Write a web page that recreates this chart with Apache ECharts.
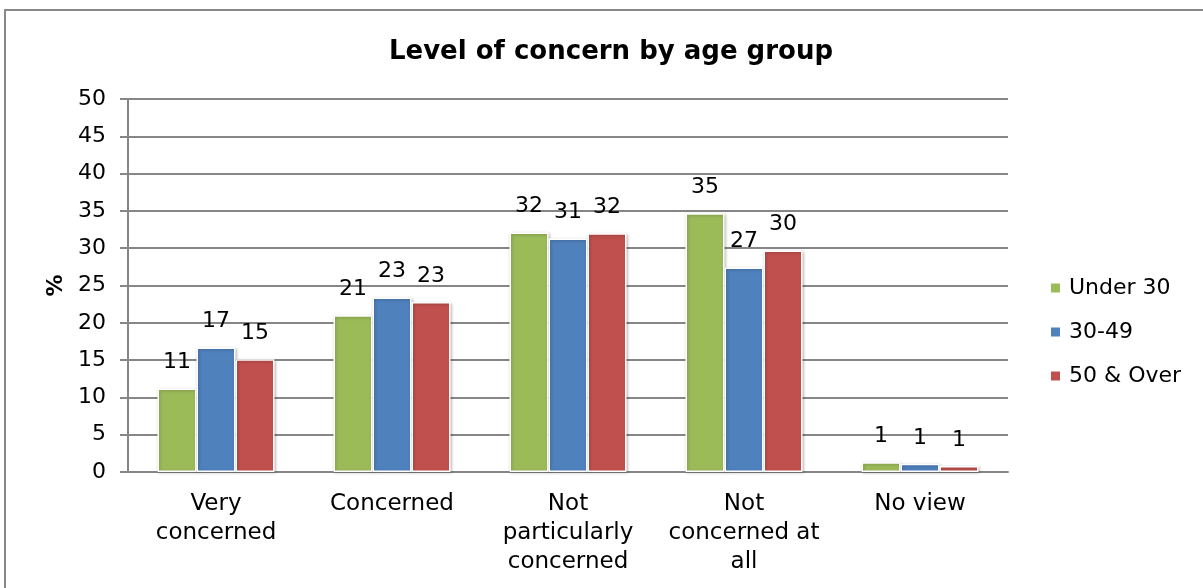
<!DOCTYPE html>
<html>
<head>
<meta charset="utf-8">
<script src="https://cdn.jsdelivr.net/npm/echarts@6/dist/echarts.min.js"></script>
<style>html,body{margin:0;padding:0;background:#fff}#c{width:1203px;height:588px}</style>
</head>
<body>
<div id="c"></div>
<script>
const categories = ['Very\nconcerned', 'Concerned', 'Not\nparticularly\nconcerned', 'Not\nconcerned at\nall', 'No view'];
const under30 = [11.2, 21.0, 32.1, 34.7, 1.3];
const age30to49 = [16.7, 23.4, 31.3, 27.4, 1.1];
const over50 = [15.1, 22.8, 32.0, 29.7, 0.8];
const seriesNames = ['Under 30', '30-49', '50 & Over'];
const colors = ['#9BBB59', '#4F81BD', '#C0504D'];
const yTicks = [0, 50, 5];

const FONT = 'DejaVu Sans';
const chart = echarts.init(document.getElementById('c'), null, {renderer: 'canvas'});

function mkSeries(name, data, color) {
  return {
    name: name,
    type: 'bar',
    data: data,
    barWidth: 39,
    barGap: '0%',
    itemStyle: {
      color: color,
      borderColor: '#ffffff',
      borderWidth: 1.5,
      shadowColor: 'rgba(0,0,0,0.25)',
      shadowBlur: 3,
      shadowOffsetX: 1,
      shadowOffsetY: 1
    },
    label: {
      show: true,
      position: 'top',
      distance: 15,
      fontFamily: FONT,
      fontSize: 22,
      color: '#000',
      formatter: p => Math.round(p.value)
    }
  };
}

chart.setOption({
  backgroundColor: '#fff',
  animation: false,
  title: {
    text: 'Level of concern by age group',
    left: 606,
    textAlign: 'center',
    top: 34,
    textStyle: {fontFamily: FONT, fontWeight: 'bold', fontSize: 26, color: '#000'}
  },
  legend: {
    orient: 'vertical',
    left: 1044,
    top: 270,
    itemWidth: 11,
    itemHeight: 11,
    itemGap: 18,
    icon: 'rect',
    data: seriesNames,
    textStyle: {fontFamily: FONT, fontSize: 22, color: '#000', padding: [0, 0, 0, 3], lineHeight: 26}
  },
  grid: {left: 128, right: 195, top: 99, bottom: 116, containLabel: false},
  xAxis: {
    type: 'category',
    data: categories,
    axisLine: {lineStyle: {color: '#868686', width: 2}},
    axisTick: {show: false},
    axisLabel: {fontFamily: FONT, fontSize: 23, color: '#000', lineHeight: 29, margin: 18, interval: 0}
  },
  yAxis: {
    type: 'value',
    min: yTicks[0],
    max: yTicks[1],
    interval: yTicks[2],
    name: '%',
    nameLocation: 'middle',
    nameRotate: 90,
    nameGap: 61,
    nameTextStyle: {fontFamily: FONT, fontWeight: 'bold', fontSize: 22, color: '#000'},
    axisLine: {show: true, lineStyle: {color: '#868686', width: 2}},
    axisTick: {show: true, length: 8, lineStyle: {color: '#868686', width: 2}},
    axisLabel: {fontFamily: FONT, fontSize: 22, color: '#000', margin: 22},
    splitLine: {lineStyle: {color: '#868686', width: 2}}
  },
  graphic: [
    {type: 'line', shape: {x1: 4, y1: 10, x2: 1203, y2: 10}, style: {stroke: '#888', lineWidth: 2}},
    {type: 'line', shape: {x1: 5, y1: 9, x2: 5, y2: 588}, style: {stroke: '#888', lineWidth: 2}}
  ],
  series: [
    mkSeries(seriesNames[0], under30, colors[0]),
    mkSeries(seriesNames[1], age30to49, colors[1]),
    mkSeries(seriesNames[2], over50, colors[2])
  ]
});
</script>
</body>
</html>
